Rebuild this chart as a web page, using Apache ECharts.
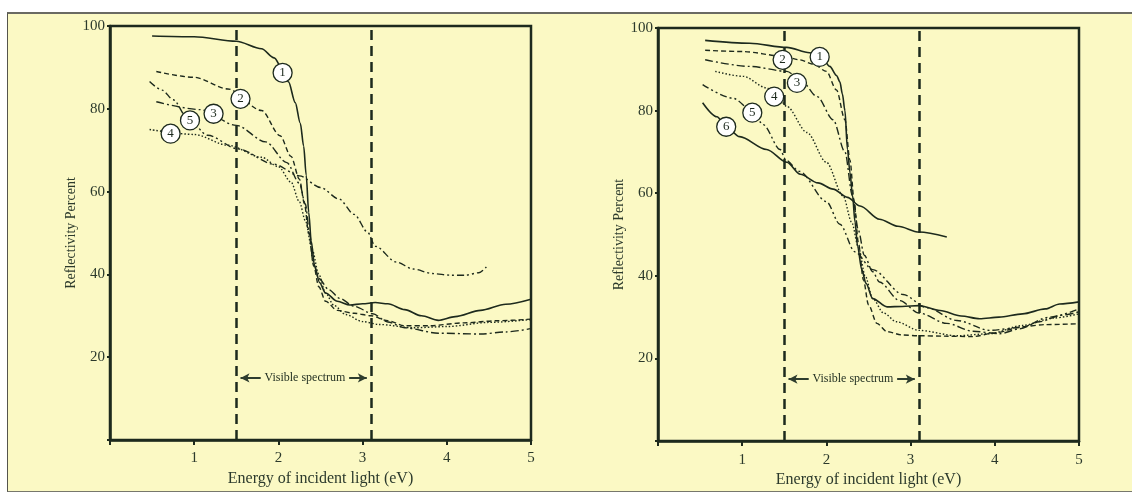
<!DOCTYPE html>
<html>
<head>
<meta charset="utf-8">
<script src="https://cdn.jsdelivr.net/npm/echarts@6/dist/echarts.min.js"></script>
<style>
    html, body { margin: 0; padding: 0; background: #fff; }
    #wrap { position: relative; width: 1132px; height: 493px; overflow: hidden; }
    #paper { position: absolute; left: 7px; top: 12px; right: 0; bottom: 1px; background: #fbf9c4;
             border-top: 2px solid #6a6a62; border-left: 1px solid #55554c; border-bottom: 1px solid #77776c; }
    #chart { position: absolute; left: 0; top: 0; width: 1132px; height: 493px; }
</style>
</head>
<body>
<div id="wrap">
    <div id="paper"></div>
    <div id="chart"></div>
</div>
<script>
    // tick labels
    const xTicks = [1, 2, 3, 4, 5];
    const yTicks = [20, 40, 60, 80, 100];
    // visible spectrum limits (eV), arrow height and the gap left for the caption
    const visibleRange = [1.5, 3.1];
    const visibleArrowY = 15;
    const visibleCaptionGap = [1.79, 2.84];
    const visibleLabel = [[2.315, 15, 'Visible spectrum']];

    // left panel curves  [eV, reflectivity %]
    const leftCurve1 = [[0.5, 97.6], [1.0, 97.4], [1.5, 96.3], [1.8, 94.5], [1.95, 92.3], [2.05, 89.5], [2.12, 86.5], [2.2, 81.5], [2.26, 76.5], [2.3, 71], [2.33, 64], [2.36, 55], [2.39, 48], [2.43, 42], [2.49, 38], [2.56, 35.5], [2.7, 33.5], [2.85, 32.6], [3.0, 32.9], [3.15, 33.2], [3.3, 32.9], [3.5, 31.5], [3.7, 30], [3.9, 28.9], [4.1, 29.8], [4.4, 31.3], [4.7, 32.8], [5.0, 34]];
    const leftCurve2 = [[0.55, 89], [1.0, 87.6], [1.4, 84.8], [1.8, 79.6], [2.02, 73.5], [2.15, 68.5], [2.25, 63], [2.31, 57], [2.36, 50], [2.42, 42], [2.48, 37], [2.56, 33.5], [2.7, 31.3], [2.9, 30.6], [3.1, 30], [3.3, 28.8], [3.5, 27.6], [3.8, 27.6], [4.2, 28.3], [4.6, 28.8], [5.0, 29.2]];
    const leftCurve3 = [[0.55, 81.7], [1.07, 79.8], [1.5, 76], [1.85, 72], [2.1, 67], [2.25, 62], [2.32, 57], [2.37, 50], [2.41, 43], [2.48, 39], [2.6, 36.3], [2.73, 34.2], [2.9, 32.3], [3.12, 30.5], [3.3, 28.5], [3.5, 27.1], [3.9, 25.8], [4.4, 25.6], [4.7, 26.1], [5.0, 26.9]];
    const leftCurve4 = [[0.47, 75], [1.0, 73.8], [1.4, 71.2], [1.8, 68.3], [2.0, 66], [2.15, 62.3], [2.25, 57.5], [2.32, 53], [2.4, 46], [2.48, 40], [2.56, 35.5], [2.66, 32.5], [2.8, 30.3], [3.0, 28.6], [3.2, 27.9], [3.6, 27.1], [4.0, 27.4], [4.5, 28.4], [5.0, 29.1]];
    const leftCurve5 = [[0.47, 86.6], [0.62, 84.5], [0.75, 82.2], [0.92, 77.8], [1.16, 73.6], [1.52, 70.3], [1.95, 66.6], [2.25, 63.8], [2.5, 61], [2.72, 58.2], [2.9, 54.5], [3.06, 50.2], [3.15, 46.8], [3.4, 43], [3.6, 41.3], [3.83, 40.2], [4.05, 39.8], [4.22, 39.8], [4.38, 40.4], [4.47, 41.8]];
    const leftTags = [[2.05, 88.7, '1'], [1.55, 82.4, '2'], [1.23, 78.8, '3'], [0.72, 74, '4'], [0.95, 77.2, '5']];

    // right panel curves
    const rightCurve1 = [[0.56, 97], [1.09, 96.3], [1.53, 95.3], [1.8, 94], [1.95, 92.8], [2.04, 90.7], [2.12, 88.5], [2.16, 87], [2.19, 84], [2.22, 80], [2.25, 70.6], [2.28, 65], [2.31, 59.5], [2.34, 53], [2.37, 47.2], [2.42, 41.5], [2.47, 38.2], [2.55, 34.5], [2.72, 32.5], [2.9, 32.6], [3.1, 32.8], [3.35, 31.6], [3.6, 30.3], [3.82, 29.6], [4.05, 30], [4.33, 30.8], [4.6, 32], [4.77, 33.2], [5.0, 33.7]];
    const rightCurve2 = [[0.56, 94.6], [1.01, 94.3], [1.48, 93.2], [1.68, 92.3], [1.85, 91.2], [2.0, 89.5], [2.12, 85], [2.22, 77.8], [2.28, 68], [2.33, 58], [2.38, 48], [2.44, 39], [2.5, 33], [2.6, 28.5], [2.72, 26.5], [2.9, 25.7], [3.1, 25.5], [3.4, 25.4], [3.74, 25.3], [4.0, 26.2], [4.33, 27.7], [4.6, 28.2], [5.0, 28.4]];
    const rightCurve3 = [[0.56, 92.3], [1.09, 90.7], [1.53, 89.5], [1.7, 87.3], [1.89, 83.4], [2.08, 77.8], [2.22, 70], [2.31, 59.3], [2.38, 51], [2.45, 45], [2.55, 41], [2.63, 38.5], [2.87, 34], [3.1, 31], [3.43, 28.5], [3.74, 26.6], [4.06, 26], [4.3, 27.2], [4.53, 28.9], [4.8, 30.5], [5.0, 31.3]];
    const rightCurve4 = [[0.68, 89.5], [1.01, 88.3], [1.29, 85.5], [1.45, 82.5], [1.53, 81], [1.77, 74.7], [2.0, 67.5], [2.2, 59.3], [2.3, 53], [2.38, 47], [2.46, 40], [2.55, 34.5], [2.68, 31], [2.83, 28.9], [3.1, 26.8], [3.55, 25.5], [3.94, 26], [4.33, 28], [4.7, 29.8], [5.0, 30.8]];
    const rightCurve5 = [[0.53, 86.3], [0.89, 83], [1.12, 80], [1.25, 76.6], [1.45, 70.6], [1.52, 68], [1.68, 65.3], [2.0, 58], [2.16, 52.5], [2.34, 45.8], [2.55, 41.5], [2.91, 35.5], [3.19, 32.3], [3.55, 29.2], [3.94, 26.8], [4.3, 27.5], [4.65, 30], [5.0, 32]];
    const rightCurve6 = [[0.53, 81.9], [0.7, 78.5], [0.81, 76.1], [0.97, 73.7], [1.29, 70.6], [1.53, 67.5], [1.69, 64.6], [1.9, 62.5], [2.08, 61], [2.25, 59], [2.4, 56.9], [2.63, 53.7], [2.85, 52], [3.1, 50.6], [3.43, 49.4]];
    const rightTags = [[1.92, 93, '1'], [1.48, 92.3, '2'], [1.65, 86.7, '3'], [1.38, 83.4, '4'], [1.12, 79.5, '5'], [0.81, 76.1, '6']];

    const Ink = '#1d2a1d';
    const TextInk = '#2c3a2c';
    const Serif = '"Liberation Serif", "DejaVu Serif", serif';

    // line styles: solid, dashed, dash-dot, dotted, dash-dot-dot
    const dashes = {
        solid: 'solid',
        dash: [5, 3],
        dashDot: [8, 3, 2, 3],
        dot: [1.5, 2],
        dashDotDot: [7, 3, 2, 3, 2, 3]
    };

    const grids = [
        {left: 110, top: 26, width: 421, height: 414},
        {left: 658, top: 28, width: 421, height: 415}
    ].map(g => Object.assign(g, {show: true, borderColor: Ink, borderWidth: 2.5, backgroundColor: 'transparent'}));

    function xAxisFor(idx) {
        return {
            type: 'value', gridIndex: idx, min: 0, max: 5, interval: 1,
            name: 'Energy of incident light (eV)', nameLocation: 'middle', nameGap: 30,
            nameTextStyle: {color: TextInk, fontFamily: Serif, fontSize: 16},
            axisLine: {show: true, lineStyle: {color: Ink, width: 2.5}},
            axisTick: {show: true, length: 5, lineStyle: {color: Ink, width: 2}},
            axisLabel: {
                color: TextInk, fontFamily: Serif, fontSize: 15, margin: 11,
                formatter: v => xTicks.indexOf(v) >= 0 ? String(v) : ''
            },
            splitLine: {show: false}
        };
    }

    function yAxisFor(idx) {
        return {
            type: 'value', gridIndex: idx, min: 0, max: 100, interval: 20,
            name: 'Reflectivity Percent', nameLocation: 'middle', nameGap: 31,
            nameTextStyle: {color: TextInk, fontFamily: Serif, fontSize: 14},
            axisLine: {show: true, lineStyle: {color: Ink, width: 2.5}},
            axisTick: {show: true, length: 3, lineStyle: {color: Ink, width: 2}},
            axisLabel: {
                color: TextInk, fontFamily: Serif, fontSize: 15, margin: 5,
                formatter: v => yTicks.indexOf(v) >= 0 ? String(v) : ''
            },
            splitLine: {show: false}
        };
    }

    function curve(data, dash, idx) {
        return {
            type: 'line', data, xAxisIndex: idx, yAxisIndex: idx,
            symbol: 'none', smooth: 0.3, smoothMonotone: 'x', silent: true,
            lineStyle: {color: Ink, width: dash === 'solid' ? 1.6 : 1.4, type: dash},
            z: 3
        };
    }

    // dashed verticals marking the visible range
    function verticals(idx) {
        return {
            type: 'line', data: [], xAxisIndex: idx, yAxisIndex: idx, silent: true,
            markLine: {
                silent: true, animation: false, symbol: 'none',
                lineStyle: {type: [10, 6], width: 2.5, color: Ink},
                label: {show: false},
                data: visibleRange.map(v => ({xAxis: v}))
            },
            z: 2
        };
    }

    // two half-arrows pointing out to the verticals, leaving room for the caption
    function arrow(idx) {
        return {
            type: 'line', data: [], xAxisIndex: idx, yAxisIndex: idx, silent: true,
            markLine: {
                silent: true, animation: false,
                symbolSize: [7, 9],
                lineStyle: {type: 'solid', width: 2, color: '#2e3d2e'},
                label: {show: false},
                data: [
                    [
                        {coord: [visibleRange[0] + 0.05, visibleArrowY], symbol: 'arrow'},
                        {coord: [visibleCaptionGap[0], visibleArrowY], symbol: 'none'}
                    ],
                    [
                        {coord: [visibleCaptionGap[1], visibleArrowY], symbol: 'none'},
                        {coord: [visibleRange[1] - 0.05, visibleArrowY], symbol: 'arrow'}
                    ]
                ]
            },
            z: 2
        };
    }

    function arrowText(idx) {
        return {
            type: 'scatter', data: visibleLabel, xAxisIndex: idx, yAxisIndex: idx, silent: true,
            symbol: 'rect', symbolSize: 1,
            itemStyle: {color: 'rgba(0,0,0,0)'},
            label: {
                show: true, position: 'inside', formatter: p => p.value[2],
                color: '#1f2d1f', fontFamily: Serif, fontSize: 12,
                textBorderWidth: 0, opacity: 1
            },
            z: 4
        };
    }

    function tags(data, idx) {
        return {
            type: 'scatter', data, xAxisIndex: idx, yAxisIndex: idx, silent: true,
            symbol: 'circle', symbolSize: 19,
            itemStyle: {color: '#ffffff', borderColor: Ink, borderWidth: 1.3, opacity: 1},
            label: {show: true, position: 'inside', formatter: p => p.value[2], color: Ink, fontFamily: Serif, fontSize: 13},
            z: 5
        };
    }

    const chart = echarts.init(document.getElementById('chart'), null, {renderer: 'canvas'});
    chart.setOption({
        animation: false,
        backgroundColor: 'transparent',
        grid: grids,
        xAxis: [xAxisFor(0), xAxisFor(1)],
        yAxis: [yAxisFor(0), yAxisFor(1)],
        series: [
            verticals(0), arrow(0), arrowText(0),
            curve(leftCurve1, dashes.solid, 0),
            curve(leftCurve2, dashes.dash, 0),
            curve(leftCurve3, dashes.dashDot, 0),
            curve(leftCurve4, dashes.dot, 0),
            curve(leftCurve5, dashes.dashDotDot, 0),
            tags(leftTags, 0),
            verticals(1), arrow(1), arrowText(1),
            curve(rightCurve1, dashes.solid, 1),
            curve(rightCurve2, dashes.dash, 1),
            curve(rightCurve3, dashes.dashDot, 1),
            curve(rightCurve4, dashes.dot, 1),
            curve(rightCurve5, dashes.dashDotDot, 1),
            curve(rightCurve6, dashes.solid, 1),
            tags(rightTags, 1)
        ]
    });
</script>
</body>
</html>
